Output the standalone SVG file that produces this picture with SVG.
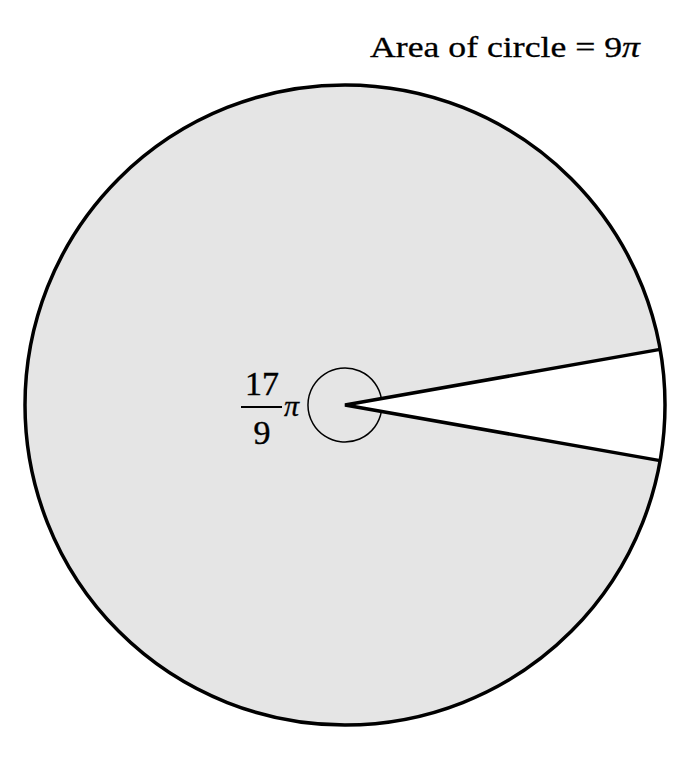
<svg xmlns="http://www.w3.org/2000/svg" width="688" height="772" viewBox="0 0 688 772">
<style>
.t{font-family:"Liberation Serif","DejaVu Serif",serif;fill:#000}
</style>
<rect width="688" height="772" fill="#fff"/>
<g id="circle">
<circle cx="345" cy="405" r="320" fill="#fff" stroke="none"/>
<path d="M345,405 L660.1,349.4 A320,320 0 1 0 660.1,460.6 Z" fill="#e5e5e5" stroke="none"/>
</g>
<g id="connectors">
<circle cx="345" cy="405" r="320" fill="none" stroke="#000" stroke-width="3.5"/>
<path d="M660.1,349.4 L345,405 L660.1,460.6" fill="none" stroke="#000" stroke-width="3.5" stroke-linejoin="miter"/>
<path d="M381.4,398.6 A37,37 0 1 0 381.4,411.4" fill="none" stroke="#000" stroke-width="1.5"/>
</g>
<g id="angle-label">
<text class="t" x="262" y="395" font-size="34" text-anchor="middle" stroke="#000" stroke-width="0.4">17</text>
<line x1="241" y1="407" x2="282" y2="407" stroke="#000" stroke-width="2"/>
<text class="t" x="262" y="444" font-size="34" text-anchor="middle" stroke="#000" stroke-width="0.4">9</text>
<text class="t" x="284" y="416" font-size="30" font-style="italic" stroke="#000" stroke-width="0.3">π</text>
</g>
<g id="title">
<text class="t" x="370" y="57" font-size="30" textLength="270" lengthAdjust="spacingAndGlyphs" stroke="#000" stroke-width="0.3">Area of circle = 9<tspan font-style="italic">π</tspan></text>
</g>
</svg>
